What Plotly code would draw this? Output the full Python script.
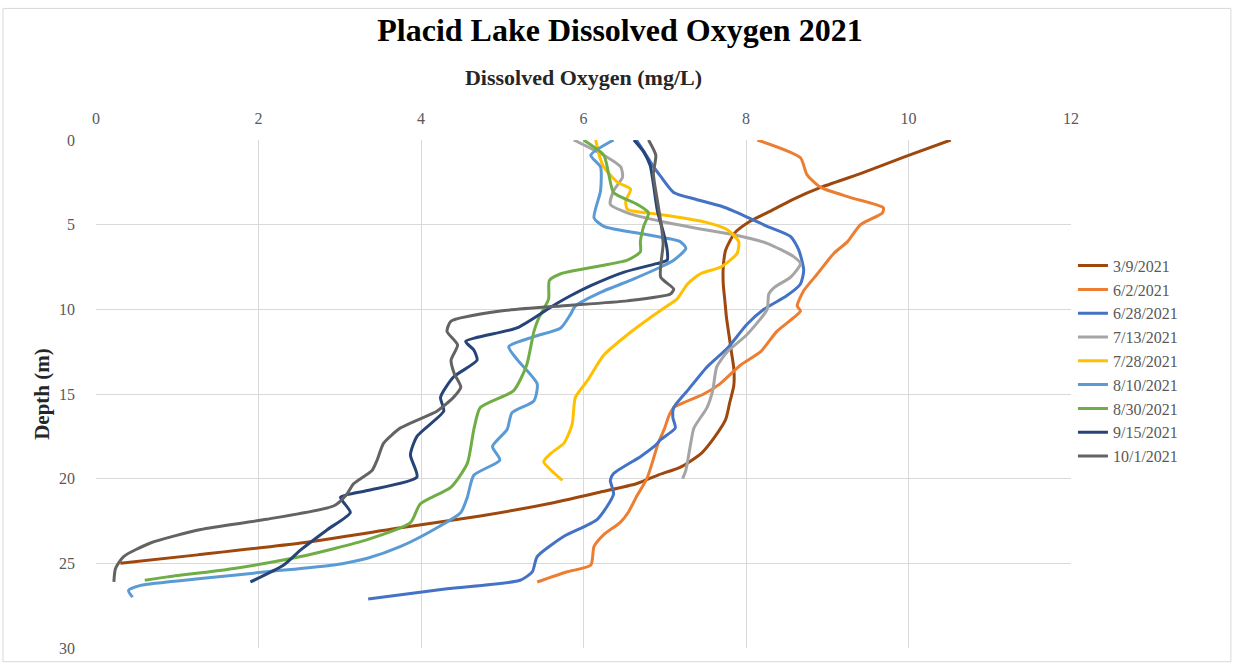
import plotly.graph_objects as go

# depth (m) and dissolved oxygen (mg/L) per sampling date
d_0309 = [0, 1, 2, 2.8, 3.5, 4.2, 4.8, 5.5, 6.5, 7.5, 8.5, 9.5, 10.5, 11.5, 12.5, 13.5, 14.5, 15.5,
          16.5, 17.5, 18.5, 19.3, 19.8, 20.3, 20.8, 21.5, 22.2, 22.9, 23.8, 24.5, 25]
do_0309 = [10.52, 9.95, 9.4, 8.92, 8.58, 8.3, 8.05, 7.86, 7.75, 7.72, 7.72, 7.74, 7.76, 7.79, 7.82, 7.85,
           7.85, 7.8, 7.75, 7.62, 7.45, 7.2, 6.91, 6.65, 6.2, 5.55, 4.73, 3.75, 2.52, 1.25, 0.3]

d_0602 = [0, 1.05, 2.05, 2.8, 3.4, 4.0, 4.3, 5.0, 6.0, 6.7, 7.9, 8.9, 9.8, 10.1, 11.3, 12.5, 13.3, 14.4,
          15.0, 15.8, 16.3, 17.0, 17.9, 19.0, 20.0, 21.0, 22.0, 22.6, 23.3, 24.0, 25.1, 25.5, 26.1]
do_0602 = [8.14, 8.67, 8.75, 8.92, 9.29, 9.69, 9.68, 9.41, 9.25, 9.08, 8.88, 8.71, 8.63, 8.67, 8.38, 8.18,
           7.93, 7.68, 7.48, 7.11, 7.05, 7.0, 6.92, 6.85, 6.78, 6.66, 6.55, 6.45, 6.25, 6.13, 6.09, 5.8, 5.43]

d_0628 = [0, 0.8, 1.5, 2.15, 3.1, 3.5, 3.9, 4.2, 5.1, 5.7, 6.5, 7.7, 8.5, 9.2, 10.0, 10.9, 12.3, 13.4,
          14.8, 15.8, 16.4, 17.0, 17.7, 18.1, 18.7, 19.7, 20.1, 20.9, 22.4, 23.4, 24.6, 25.5, 26.0, 26.5, 27.1]
do_0628 = [6.65, 6.76, 6.85, 6.95, 7.11, 7.38, 7.69, 7.85, 8.26, 8.55, 8.65, 8.71, 8.67, 8.5, 8.22, 8.01,
           7.77, 7.52, 7.28, 7.11, 7.1, 7.13, 6.95, 6.87, 6.7, 6.37, 6.33, 6.37, 6.17, 5.76, 5.43, 5.37,
           5.22, 4.32, 3.35]

d_0713 = [0, 0.9, 1.6, 2.2, 3.0, 3.8, 4.3, 4.8, 5.35, 5.6, 6.1, 6.9, 7.3, 8.1, 8.7, 9.1, 10.0, 11.5,
          12.5, 13.4, 14.8, 15.8, 17.0, 17.9, 19.5, 20.0]
do_0713 = [5.88, 6.25, 6.46, 6.48, 6.37, 6.33, 6.54, 6.95, 7.55, 7.85, 8.26, 8.59, 8.67, 8.55, 8.35, 8.28,
           8.26, 8.01, 7.77, 7.64, 7.59, 7.52, 7.36, 7.32, 7.26, 7.22]

d_0728 = [0, 1.0, 1.6, 2.5, 2.9, 3.6, 4.1, 4.4, 4.85, 5.3, 6.0, 6.7, 7.5, 7.9, 8.5, 9.4, 9.8, 10.5,
          11.5, 12.7, 14.2, 15.2, 16.8, 17.9, 18.5, 19.0, 19.5, 20.1]
do_0728 = [6.15, 6.2, 6.25, 6.42, 6.58, 6.52, 6.54, 6.95, 7.5, 7.77, 7.91, 7.89, 7.69, 7.44, 7.28, 7.15,
           7.03, 6.82, 6.54, 6.25, 6.05, 5.9, 5.86, 5.76, 5.6, 5.51, 5.6, 5.74]

d_0810 = [0, 0.9, 1.6, 3.0, 4.6, 5.1, 5.6, 6.0, 6.4, 7.1, 7.5, 8.2, 9.0, 9.8, 10.3, 11.1, 11.6, 12.2,
          13.0, 14.4, 15.4, 16.1, 17.1, 18.1, 18.9, 19.8, 21.1, 22.0, 23.0, 24.0, 24.7, 25.1, 25.5, 25.9,
          26.3, 26.6, 27.0]
do_0810 = [6.37, 6.09, 6.21, 6.21, 6.13, 6.25, 6.79, 7.19, 7.26, 7.11, 6.95, 6.62, 6.21, 5.9, 5.84, 5.72,
           5.4, 5.08, 5.19, 5.43, 5.39, 5.12, 5.06, 4.88, 4.97, 4.65, 4.57, 4.49, 4.16, 3.75, 3.34, 2.93,
           2.1, 1.29, 0.55, 0.4, 0.45]

d_0830 = [0, 0.9, 2.0, 3.1, 3.8, 4.3, 5.1, 6.0, 6.6, 7.1, 7.5, 7.9, 8.3, 9.4, 10.5, 11.3, 13.3, 14.8,
          15.8, 17.1, 19.1, 20.5, 21.5, 22.6, 23.6, 24.6, 25.3, 25.8, 26.0]
do_0830 = [6.0, 6.25, 6.31, 6.37, 6.66, 6.8, 6.74, 6.7, 6.7, 6.54, 6.13, 5.72, 5.58, 5.57, 5.45, 5.39,
           5.3, 5.14, 4.73, 4.65, 4.57, 4.37, 3.99, 3.87, 3.34, 2.52, 1.7, 0.88, 0.6]

d_0915 = [0, 0.7, 1.5, 2.6, 4.2, 5.4, 6.5, 7.1, 7.3, 7.8, 8.6, 9.2, 9.8, 11.1, 11.9, 12.4, 13.0, 14.0,
          15.2, 16.0, 17.5, 18.6, 19.9, 20.7, 21.1, 22.0, 23.0, 24.2, 25.1, 26.1]
do_0915 = [6.62, 6.74, 6.82, 6.86, 6.91, 6.98, 7.03, 7.03, 6.9, 6.5, 6.09, 5.84, 5.62, 5.18, 4.55, 4.65,
           4.69, 4.4, 4.24, 4.28, 3.95, 3.87, 3.95, 3.34, 3.01, 3.13, 2.85, 2.52, 2.31, 1.9]

d_1001 = [0, 0.9, 2.0, 3.6, 4.8, 6.1, 8.1, 8.8, 9.1, 9.5, 9.8, 10.1, 10.7, 11.3, 12.1, 13.0, 13.8, 14.6,
          15.2, 16.0, 17.0, 17.9, 18.9, 19.5, 20.3, 20.9, 21.6, 22.4, 23.0, 23.8, 24.6, 25.3, 26.1]
do_1001 = [6.8, 6.89, 6.86, 6.91, 6.95, 6.98, 6.95, 7.11, 7.07, 6.54, 5.72, 4.98, 4.37, 4.32, 4.45, 4.37,
           4.41, 4.49, 4.4, 4.2, 3.75, 3.54, 3.46, 3.4, 3.17, 3.09, 2.93, 2.1, 1.29, 0.67, 0.34, 0.24, 0.22]

series = [
    ("3/9/2021", d_0309, do_0309, "#9E480E"),
    ("6/2/2021", d_0602, do_0602, "#ED7D31"),
    ("6/28/2021", d_0628, do_0628, "#4472C4"),
    ("7/13/2021", d_0713, do_0713, "#A5A5A5"),
    ("7/28/2021", d_0728, do_0728, "#FFC000"),
    ("8/10/2021", d_0810, do_0810, "#5B9BD5"),
    ("8/30/2021", d_0830, do_0830, "#70AD47"),
    ("9/15/2021", d_0915, do_0915, "#264478"),
    ("10/1/2021", d_1001, do_1001, "#636363"),
]

SERIF = "Liberation Serif, Times New Roman, serif"

fig = go.Figure()
for name, depth, oxy, color in series:
    fig.add_trace(go.Scatter(
        x=oxy, y=depth, name=name, mode="lines",
        line=dict(color=color, width=3, shape="spline", smoothing=0.6),
    ))

fig.update_layout(
    width=1234, height=669,
    paper_bgcolor="white", plot_bgcolor="white",
    margin=dict(l=96, r=163, t=140, b=16),
    title=dict(text="<b>Placid Lake Dissolved Oxygen 2021</b>",
               x=0.5024, xanchor="center", y=0.955, yanchor="middle",
               font=dict(family=SERIF, size=32, color="black")),
    xaxis=dict(
        side="top", range=[0, 12], dtick=2, tick0=0,
        showgrid=True, gridcolor="#D9D9D9", gridwidth=1, zeroline=False,
        showline=False, ticklabelstandoff=12,
        tickfont=dict(family=SERIF, size=16, color="#595959"),
        title=dict(text="<b>Dissolved Oxygen (mg/L)</b>", standoff=18,
                   font=dict(family=SERIF, size=22, color="#262626")),
    ),
    yaxis=dict(
        range=[30, 0], dtick=5, tick0=0,
        showgrid=True, gridcolor="#D9D9D9", gridwidth=1, zeroline=False,
        showline=False, ticklabelstandoff=20,
        tickfont=dict(family=SERIF, size=16, color="#595959"),
        title=dict(text="<b>Depth (m)</b>", standoff=3,
                   font=dict(family=SERIF, size=21, color="#262626")),
    ),
    legend=dict(
        x=1.002, xanchor="left", y=0.786, yanchor="top",
        font=dict(family=SERIF, size=16, color="#595959"),
        bgcolor="rgba(0,0,0,0)", tracegroupgap=0,
    ),
    shapes=[dict(type="rect", xref="paper", yref="paper",
                 x0=-0.0954, x1=1.164, y0=-0.027, y1=1.259,
                 line=dict(color="#D9D9D9", width=1), layer="below")],
)

# drop the browser's default body margin so the figure sits at the page corner
fig.write_html("out.html", config={"displayModeBar": False},
               post_script="document.body.style.margin='0';")
